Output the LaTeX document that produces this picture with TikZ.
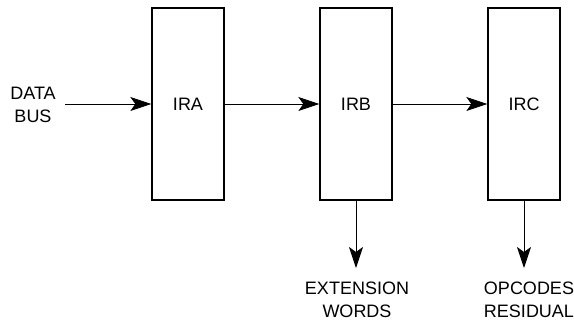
\documentclass[tikz,border=0pt]{standalone}
\usepackage{fontspec}
\setmainfont{Liberation Sans}
\usetikzlibrary{arrows.meta}
\begin{document}
\begin{tikzpicture}[x=1pt,y=-1pt,
  reg/.style={draw,line width=1.3pt,minimum width=72pt,minimum height=192pt,inner sep=0pt,font=\fontsize{18}{23}\selectfont},
  lbl/.style={align=center,inner sep=0pt,font=\fontsize{18}{23}\selectfont},
  conn/.style={line width=0.9pt,-{Stealth[length=21pt,width=14pt,inset=5pt]}}]
\useasboundingbox (0,0) rectangle (574,325);
\node[reg] (ira) at (188,104) {IRA};
\node[reg] (irb) at (356,104) {IRB};
\node[reg] (irc) at (524,104) {IRC};
\node[lbl] (bus) at (33,104.5) {DATA\\BUS};
\coordinate (din) at (65,104);
\coordinate (extip) at (356,268);
\coordinate (opctip) at (524,268);
\node[lbl] (ext) at (357,300) {EXTENSION\\WORDS};
\node[lbl] (opc) at (529,300) {OPCODES\\RESIDUAL};
\draw[conn] (din) -- (ira);
\draw[conn] (ira) -- (irb);
\draw[conn] (irb) -- (irc);
\draw[conn] (irb.south) -- (extip);
\draw[conn] (irc.south) -- (opctip);
\end{tikzpicture}
\end{document}
